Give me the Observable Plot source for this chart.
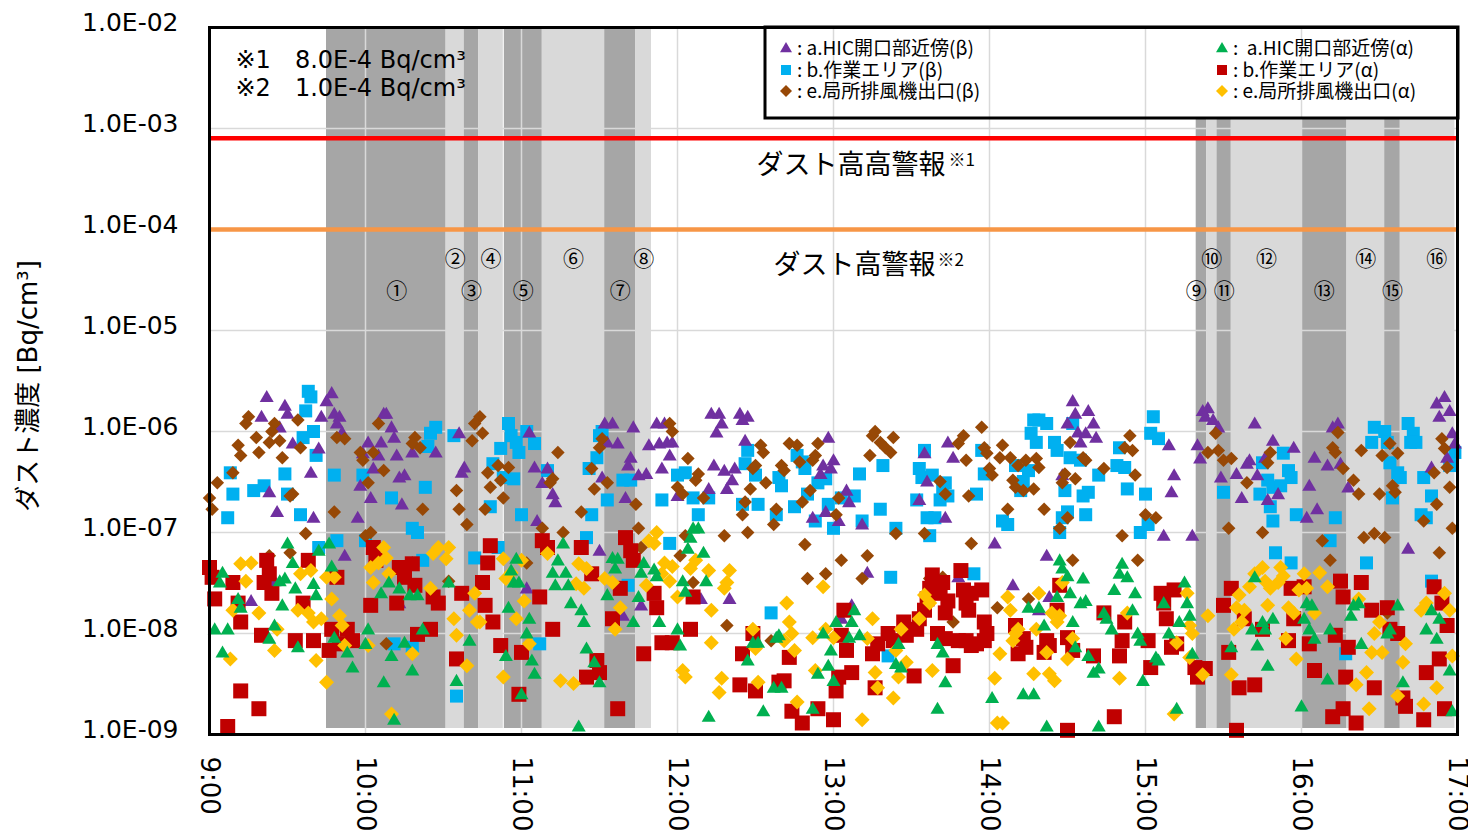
<!DOCTYPE html>
<html><head><meta charset="utf-8">
<script src="https://cdn.jsdelivr.net/npm/d3@7"></script>
<script src="https://cdn.jsdelivr.net/npm/@observablehq/plot@0.6"></script>
<style>body{margin:0;background:#fff} svg{display:block}</style>
</head><body><div id="chart"></div>
<script>
// ---------- data ----------
const hours = [9,10,11,12,13,14,15,16,17];
const decades = [1e-9,1e-8,1e-7,1e-6,1e-5,1e-4,1e-3,1e-2];
const thresholds = [
  {key:"※1", value:8e-4, label:"ダスト高高警報", color:"#ff0000"},
  {key:"※2", value:1e-4, label:"ダスト高警報", color:"#f79646"}
];
const bands = [
  {start:"9:45", end:"10:31", shade:"dark", label:"①", at:"10:12"},
  {start:"10:31", end:"10:38", shade:"light", label:"②"},
  {start:"10:38", end:"10:43.5", shade:"dark", label:"③"},
  {start:"10:43.5", end:"10:53", shade:"light", label:"④"},
  {start:"10:53.4", end:"11:08", shade:"dark", label:"⑤"},
  {start:"11:08", end:"11:32", shade:"light", label:"⑥"},
  {start:"11:32", end:"11:44", shade:"dark", label:"⑦"},
  {start:"11:44", end:"11:50", shade:"light", label:"⑧"},
  {start:"15:19.5", end:"15:23.5", shade:"dark", label:"⑨", at:"15:19.5"},
  {start:"15:23.5", end:"15:27.5", shade:"light", label:"⑩"},
  {start:"15:27.5", end:"15:33", shade:"dark", label:"⑪"},
  {start:"15:33", end:"16:00", shade:"light", label:"⑫"},
  {start:"16:00", end:"16:17.5", shade:"dark", label:"⑬"},
  {start:"16:17.5", end:"16:32", shade:"light", label:"⑭"},
  {start:"16:32", end:"16:38", shade:"dark", label:"⑮"},
  {start:"16:38", end:"16:59", shade:"light", label:"⑯", at:"16:52"}
];
const shades = {dark:"#a6a6a6", light:"#d9d9d9"};

const seriesInfo = [
  {id:"aBeta", name:": a.HIC開口部近傍(β)", color:"#7030a0", symbol:"tri", w:14},
  {id:"bBeta", name:": b.作業エリア(β)", color:"#00b0f0", symbol:"sqr", w:13},
  {id:"eBeta", name:": e.局所排風機出口(β)", color:"#974806", symbol:"dia", w:13.5},
  {id:"aAlpha", name:":  a.HIC開口部近傍(α)", color:"#00b050", symbol:"tri", w:14},
  {id:"bAlpha", name:": b.作業エリア(α)", color:"#c00000", symbol:"sqr", w:15},
  {id:"eAlpha", name:": e.局所排風機出口(α)", color:"#ffc000", symbol:"dia", w:15}
];

const aBeta = [["9:22",2.2e-6],["9:29",1.8e-6],["9:20",1.4e-6],["9:30",1.5e-6],["9:27",1.1e-6],["9:32",7.6e-7],["9:39",3.9e-7],["9:23",2.5e-7],["9:26",1.6e-7],["9:40",1.4e-7],["9:42",6.8e-7],["9:47",2.4e-6],["9:45",2.0e-6],["9:43",1.4e-6],["9:48",1.5e-6],["9:50",1.4e-6],["9:49",1.2e-6],["9:51",9.8e-7],["10:01",7.8e-7],["9:59",6.1e-7],["10:06",7.8e-7],["10:05",5.8e-7],["10:03",4.3e-7],["9:58",2.9e-7],["10:02",2.2e-7],["9:57",1.4e-7],["10:07",1.5e-6],["10:08",1.5e-6],["10:10",1.1e-6],["10:11",8.7e-7],["10:12",5.8e-7],["10:13",3.5e-7],["10:15",3.7e-7],["10:14",1.9e-7],["10:18",6.2e-7],["10:27",6.2e-7],["10:36",9.6e-7],["10:38",4.4e-7],["10:37",3.9e-7],["9:52",5.9e-8],["9:25",3.3e-8],["9:16",2.1e-8],["10:13",2.0e-8],["11:03",9.8e-7],["11:05",4.4e-7],["11:08",3.1e-7],["11:10",4.3e-7],["11:12",2.4e-7],["11:13",2.0e-7],["11:06",1.3e-7],["11:02",2.8e-8],["11:30",6.6e-8],["11:32",1.2e-6],["11:35",1.2e-6],["11:33",7.8e-7],["11:37",7.6e-7],["11:31",3.5e-7],["11:43",1.1e-6],["11:42",5.5e-7],["11:41",4.6e-7],["11:45",3.7e-7],["11:48",3.8e-7],["11:49",7.3e-7],["11:40",2.2e-7],["11:39",1.5e-8],["11:46",1.9e-8],
["11:52",1.2e-6],["11:55",1.2e-6],["11:53",7.6e-7],["11:56",7.8e-7],["11:58",7.8e-7],["11:57",5.8e-7],["11:54",4.3e-7],["12:00",2.3e-7],["12:13",1.5e-6],["12:16",1.5e-6],["12:17",1.2e-6],["12:15",9.8e-7],["12:24",1.5e-6],["12:27",1.4e-6],["12:25",1.3e-6],["12:26",8.1e-7],["12:14",4.6e-7],["12:18",4.1e-7],["12:22",4.3e-7],["12:21",3.3e-7],["12:19",2.7e-7],["12:12",2.7e-7],["12:09",2.2e-8],["12:20",2.2e-8],["12:58",8.7e-7],["12:56",4.6e-7],["13:00",5.2e-7],["12:59",4.3e-7],["12:55",3.8e-7],["13:05",2.6e-7],["13:06",2.0e-7],["12:52",1.4e-7],["12:57",1.6e-7],["13:02",1.3e-7],["13:11",1.2e-7],["13:13",4.0e-8],["13:07",1.9e-8],["13:03",1.4e-8],["13:35",6.1e-7],["13:36",3.2e-7],["13:33",2.1e-7],["13:43",1.4e-7],["13:44",7.8e-7],["13:46",5.5e-7],["13:48",3.6e-8],["14:02",7.8e-8],["14:09",3.0e-8],["14:23",2.3e-8],["14:22",5.9e-8],["14:19",1.7e-8],["14:28",3.7e-7],["14:32",2.0e-6],["14:33",1.5e-6],["14:30",1.2e-6],["14:38",1.6e-6],["14:40",1.2e-6],["14:34",9.8e-7],["14:37",9.6e-7],["14:41",8.7e-7],["14:35",7.8e-7],["15:09",7.3e-7],["15:11",3.7e-7],["15:10",2.5e-7],["15:07",9.3e-8],["15:18",9.3e-8],["15:20",7.3e-7],
["15:22",1.6e-6],["15:24",1.7e-6],["15:23",1.4e-6],["15:26",1.3e-6],["15:28",1.1e-6],["15:21",5.4e-7],["15:29",3.5e-7],["15:35",3.8e-7],["15:39",4.8e-7],["15:40",5.2e-7],["15:43",3.7e-7],["15:37",2.2e-7],["15:42",1.2e-6],["15:49",8.1e-7],["15:47",2.1e-7],["15:46",5.5e-7],["15:51",2.4e-7],["15:57",6.9e-7],["16:03",2.9e-7],["16:05",5.5e-7],["16:02",1.4e-7],["16:06",1.7e-7],["16:12",1.1e-6],["16:14",1.2e-6],["16:10",4.6e-7],["16:15",4.8e-7],["16:18",2.8e-7],["16:41",6.9e-8],["16:52",1.9e-6],["16:55",2.2e-6],["16:53",1.4e-6],["16:57",1.6e-6],["16:58",9.6e-7],["16:59",7.6e-7],["16:56",5.5e-7],["16:50",4.4e-7]];

const bBeta = [["9:38",2.5e-6],["9:39",2.2e-6],["9:37",1.6e-6],["9:40",1.0e-6],["9:36",8.7e-7],["9:41",5.8e-7],["9:29",3.8e-7],["9:21",2.9e-7],["9:17",2.6e-7],["9:09",2.4e-7],["9:08",3.9e-7],["9:07",1.4e-7],["9:30",2.4e-7],["9:35",1.5e-7],["9:48",3.7e-7],["9:49",8.3e-8],["9:42",7.1e-8],["9:59",3.7e-7],["10:00",8.3e-8],["10:10",2.2e-7],["10:23",2.8e-7],["10:18",1.1e-7],["10:20",1.0e-7],["10:22",5.3e-8],["10:27",1.1e-6],["10:25",9.6e-7],["10:24",7.1e-7],["10:34",9.1e-7],["10:11",7.9e-9],["10:18",7.3e-9],["10:55",1.2e-6],["10:56",9.1e-7],["10:52",6.8e-7],["10:58",7.8e-7],["10:59",6.2e-7],["11:02",1.0e-6],["11:05",7.6e-7],["10:49",4.8e-7],["10:53",3.5e-7],["10:57",3.4e-7],["10:48",1.8e-7],["11:00",1.5e-7],["11:10",4.1e-7],["11:25",8.9e-8],["11:26",4.3e-7],["11:29",5.5e-7],["11:30",9.1e-7],["11:31",1.0e-6],["11:27",1.5e-7],["11:33",2.1e-7],["11:39",3.3e-7],["11:42",3.3e-7],["10:42",5.6e-8],["10:51",7.1e-8],["10:35",2.4e-9],["11:07",7.9e-9],["11:41",3.0e-8],
["11:54",2.1e-7],["12:00",3.7e-7],["12:03",3.9e-7],["12:06",2.2e-7],["12:08",1.5e-7],["12:12",2.2e-7],["11:57",7.8e-8],["12:27",6.5e-7],["12:26",4.8e-7],["12:30",3.7e-7],["12:25",1.9e-7],["12:31",1.9e-7],["12:36",1.6e-8],["12:39",3.5e-7],["12:40",2.9e-7],["12:38",1.5e-7],["12:46",5.8e-7],["12:48",5.0e-7],["12:49",4.3e-7],["12:45",1.8e-7],["12:50",2.4e-7],["12:54",3.1e-7],["12:57",3.4e-7],["12:53",1.3e-7],["12:58",1.9e-7],["13:00",1.1e-7],["13:03",2.2e-7],["13:08",2.3e-7],["13:10",3.8e-7],["13:11",1.3e-7],["13:19",4.6e-7],["13:18",1.7e-7],["13:22",3.6e-8],["13:24",1.1e-7],["13:35",6.5e-7],["13:33",4.3e-7],["13:34",3.5e-7],["13:38",3.7e-7],["13:39",1.4e-7],["13:42",2.7e-7],["13:41",2.1e-7],["13:43",3.1e-7],["13:44",2.3e-7],["13:36",1.4e-7],["13:32",2.1e-7],["13:37",9.3e-8],["13:21",6.0e-9],["13:54",3.9e-8],["13:55",2.4e-7],["13:57",6.5e-7],["13:58",3.8e-7],["14:05",1.3e-7],["14:07",1.2e-7],["14:10",4.6e-7],["14:13",3.2e-7],["14:15",4.1e-7],["14:12",2.6e-7],["14:17",1.3e-6],["14:19",1.3e-6],["14:22",1.2e-6],["14:16",9.6e-7],["14:18",7.8e-7],["14:25",7.8e-7],["14:26",6.5e-7],["14:32",1.2e-6],["14:31",5.5e-7],["14:35",5.2e-7],["14:29",2.6e-7],["14:30",1.6e-7],["14:36",2.3e-7],["14:38",2.5e-7],["14:37",1.5e-7],["14:28",1.4e-7],["14:27",1.0e-7],["14:42",3.7e-7],["14:50",6.9e-7],["14:49",4.6e-7],["14:52",4.4e-7],["14:53",2.7e-7],["15:00",2.4e-7],["14:58",1.0e-7],["15:01",1.2e-7],["15:03",1.4e-6],["15:02",9.6e-7],["15:05",8.5e-7],
["15:30",2.5e-7],["15:53",6.1e-7],["15:55",4.1e-7],["15:56",3.5e-7],["15:45",4.9e-7],["15:47",3.3e-7],["15:44",2.4e-7],["15:49",2.8e-7],["15:52",2.9e-7],["15:48",1.8e-7],["15:49",1.3e-7],["15:58",1.5e-7],["15:50",6.3e-8],["15:56",5.0e-8],["16:13",1.4e-7],["16:11",8.3e-8],["16:25",5.0e-8],["16:28",1.1e-6],["16:32",1.0e-6],["16:27",7.8e-7],["16:33",7.8e-7],["16:34",4.9e-7],["16:37",3.9e-7],["16:38",3.5e-7],["16:35",2.2e-7],["16:41",1.2e-6],["16:43",9.6e-7],["16:42",7.8e-7],["16:44",7.8e-7],["16:47",3.5e-7],["16:50",2.3e-7],["16:46",1.5e-7],["16:48",1.4e-7],["16:57",4.6e-7],["16:59",6.2e-7],["16:50",3.3e-8],["16:17",6.3e-9]];

const eBeta = [["9:15",1.4e-6],["9:14",1.2e-6],["9:25",1.2e-6],["9:24",1.0e-6],["9:18",8.7e-7],["9:11",7.3e-7],["9:12",5.8e-7],["9:19",6.2e-7],["9:23",7.8e-7],["9:27",8.1e-7],["9:34",1.3e-6],["9:35",6.9e-7],["9:28",5.5e-7],["9:09",3.9e-7],["9:03",3.1e-7],["9:00",2.2e-7],["9:01",1.7e-7],["9:32",2.4e-7],["9:31",2.3e-7],["9:37",9.8e-8],["9:23",5.9e-8],["9:31",6.3e-8],["9:49",8.7e-7],["9:52",8.5e-7],["9:48",1.6e-7],["9:58",6.2e-7],["9:59",5.2e-7],["10:05",1.2e-6],["10:03",6.2e-7],["10:07",4.1e-7],["10:01",3.1e-7],["10:02",1.0e-7],["10:00",9.3e-8],["10:19",8.7e-7],["10:18",7.6e-7],["10:21",6.9e-7],["10:22",1.7e-7],["10:35",2.6e-7],["10:36",1.7e-7],["10:39",1.2e-7],["10:18",5.0e-8],["10:32",3.3e-8],["10:08",7.9e-9],["10:44",1.4e-6],["10:42",1.2e-6],["10:45",9.6e-7],["10:41",8.1e-7],["10:47",3.9e-7],["10:48",2.8e-7],["10:52",3.3e-7],["10:53",2.2e-7],["10:51",4.6e-7],["10:55",4.4e-7],["10:46",1.7e-7],["11:08",1.1e-7],["11:11",3.1e-7],["11:12",3.4e-7],["11:14",6.2e-7],["11:16",1.0e-7],["11:23",1.6e-7],["11:27",4.3e-7],["11:28",2.7e-7],["11:30",6.9e-7],["11:31",8.5e-7],["11:33",3.1e-7],["11:44",1.9e-7],["11:45",1.1e-7],["11:46",7.1e-8],["11:02",5.0e-8],
["11:57",1.2e-6],["11:58",1.0e-6],["12:04",5.4e-7],["12:08",3.8e-7],["12:07",3.3e-7],["12:00",2.8e-7],["12:02",2.4e-7],["12:10",2.2e-7],["12:03",9.3e-8],["12:01",5.9e-8],["12:06",3.2e-8],["12:18",9.3e-8],["12:27",1.0e-7],["12:25",1.5e-7],["12:26",2.0e-7],["12:28",2.7e-7],["12:29",4.3e-7],["12:30",4.6e-7],["12:32",7.3e-7],["12:33",6.2e-7],["12:34",3.1e-7],["12:38",1.7e-7],["12:37",1.2e-7],["12:40",4.6e-7],["12:41",4.1e-7],["12:43",7.6e-7],["12:46",7.3e-7],["12:47",5.0e-7],["12:48",2.0e-7],["12:51",2.6e-7],["12:52",5.2e-7],["12:54",7.6e-7],["12:53",5.8e-7],["12:49",7.6e-8],["12:50",3.5e-8],["12:57",3.9e-8],["13:03",5.3e-8],["13:01",1.5e-7],["13:02",2.2e-7],["13:13",5.9e-8],["13:11",3.5e-8],["12:19",1.2e-8],["12:36",8.5e-9],["13:14",5.8e-7],["13:15",9.1e-7],["13:16",1.0e-6],["13:18",7.8e-7],["13:20",6.9e-7],["13:23",8.7e-7],["13:22",6.2e-7],["13:24",9.8e-8],["13:35",9.8e-8],["13:37",3.5e-8],["13:42",3.6e-8],["13:41",3.2e-7],["13:43",2.4e-7],["13:46",1.3e-8],["13:48",7.6e-7],["13:50",9.1e-7],["13:51",5.2e-7],["13:52",2.3e-7],["13:53",7.8e-8],["13:57",1.1e-6],["13:58",6.9e-7],["13:59",6.1e-7],["14:00",4.3e-7],["14:01",3.7e-7],["14:05",7.3e-7],["14:04",5.5e-7],["14:08",5.5e-7],["14:07",1.7e-7],["14:09",3.3e-7],["14:10",2.8e-7],["14:11",4.6e-7],["14:13",2.6e-7],["14:17",2.7e-7],["14:14",5.2e-7],["14:03",1.8e-8],["14:15",2.2e-8],["14:18",5.4e-7],["14:19",4.4e-7],["14:21",1.7e-7],["14:27",1.1e-7],["14:30",1.4e-7],["14:28",3.1e-7],["14:29",3.8e-7],["14:31",7.8e-7],["14:33",3.4e-7],["14:36",5.5e-7],["14:37",5.2e-7],["14:32",5.3e-8],["14:44",4.3e-7],["14:51",9.3e-8],["14:54",9.1e-7],["14:52",6.9e-7],["14:55",6.5e-7],["14:56",3.7e-7],["14:57",5.3e-8],["15:00",1.5e-7],["15:04",1.4e-7],
["15:27",9.6e-7],["15:24",6.2e-7],["15:28",6.5e-7],["15:30",5.2e-7],["15:33",5.4e-7],["15:32",1.1e-7],["15:39",3.1e-7],["15:45",1.0e-7],["15:48",6.2e-7],["15:47",4.9e-7],["16:12",6.9e-7],["16:13",6.2e-7],["16:16",4.3e-7],["16:14",9.8e-7],["16:08",8.3e-8],["16:11",5.3e-8],["16:20",3.3e-7],["16:22",2.4e-7],["16:23",6.5e-7],["16:24",8.9e-8],["16:28",9.8e-8],["16:32",8.9e-8],["16:30",2.4e-7],["16:34",7.6e-7],["16:31",5.8e-7],["16:37",6.1e-7],["16:35",2.9e-7],["16:36",2.5e-7],["16:33",1.6e-8],["16:47",1.3e-7],["16:51",3.9e-7],["16:52",1.9e-7],["16:53",6.3e-8],["16:54",8.5e-7],["16:55",6.8e-7],["16:56",4.4e-7],["16:57",2.8e-7],["16:58",1.1e-7]];

const bAlpha = [["9:00",4.5e-8],["9:01",3.6e-8],["9:09",3.2e-8],["9:02",2.2e-8],["9:11",2.0e-8],["9:12",1.3e-8],["9:22",5.3e-8],["9:23",3.9e-8],["9:21",3.2e-8],["9:24",2.5e-8],["9:38",5.3e-8],["9:36",2.0e-8],["9:20",9.6e-9],["9:33",8.5e-9],["9:40",8.5e-9],["9:12",2.7e-9],["9:19",1.8e-9],["9:07",1.2e-9],["9:49",3.6e-8],["9:47",1.1e-8],["9:46",6.8e-9],["9:50",7.9e-9],["9:53",1.1e-8],["9:55",8.5e-9],["10:03",7.1e-8],["10:04",5.3e-8],["10:13",4.5e-8],["10:15",3.6e-8],["10:18",4.9e-8],["10:19",3.0e-8],["10:02",1.9e-8],["10:12",2.0e-8],["10:26",2.3e-8],["10:28",2.0e-8],["10:37",2.5e-8],["10:25",1.1e-8],["10:20",9.8e-9],["10:35",5.6e-9],["10:48",7.4e-8],["10:47",5.0e-8],["10:45",3.2e-8],["10:46",1.9e-8],["10:49",1.3e-8],["10:52",7.6e-9],["11:00",6.5e-9],["10:59",2.5e-9],["11:07",2.3e-8],["11:08",8.3e-8],["11:10",7.1e-8],["11:23",7.1e-8],["11:27",3.9e-8],["11:25",3.7e-9],["11:30",4.1e-9],["11:29",5.4e-9],["11:37",1.8e-9],["11:12",1.1e-8],["11:40",8.9e-8],["11:42",6.6e-8],["11:43",5.3e-8],["11:38",2.8e-8],["11:35",1.4e-8],["11:47",6.3e-9],
["11:51",2.5e-8],["11:52",1.8e-8],["11:54",8.1e-9],["11:58",8.1e-9],["12:05",1.1e-8],["12:06",2.3e-8],["12:29",1.0e-8],["12:25",6.3e-9],["12:24",3.1e-9],["12:30",2.7e-9],["12:41",3.4e-9],["12:43",5.8e-9],["12:44",1.7e-9],["12:48",1.3e-9],["12:54",1.8e-9],["13:00",1.4e-9],["13:01",2.7e-9],["13:02",3.7e-9],["13:07",4.1e-9],["13:03",9.6e-9],["13:05",6.8e-9],["13:04",1.7e-8],["13:15",6.3e-9],["13:16",2.9e-9],["13:17",7.9e-9],["13:21",1.0e-8],["13:23",8.5e-9],["13:27",1.3e-8],["13:28",9.6e-9],["13:31",3.8e-9],["13:32",1.1e-8],["13:33",1.4e-8],["13:35",1.7e-8],["13:36",2.2e-8],["13:38",3.8e-8],["13:37",2.8e-8],["13:40",1.0e-8],["13:41",2.5e-8],["13:42",3.2e-8],["13:44",2.1e-8],["13:43",1.6e-8],["13:43",8.9e-9],["13:46",4.8e-9],["13:48",8.5e-9],["13:49",4.2e-8],["13:50",2.7e-8],["13:51",2.0e-8],["13:52",1.7e-8],["13:53",2.5e-8],["13:51",8.5e-9],["13:53",7.6e-9],["13:57",2.7e-8],["13:58",1.3e-8],["13:59",1.0e-8],["13:55",7.9e-9],["13:58",8.5e-9],["14:10",1.2e-8],["14:11",6.3e-9],["14:13",8.9e-9],["14:14",7.3e-9],["14:22",8.5e-9],["14:21",6.5e-9],["14:23",7.6e-9],["14:27",3.0e-8],["14:26",1.7e-8],["14:30",9.1e-9],["14:32",6.8e-9],["14:40",6.0e-9],["14:44",1.6e-8],["14:50",6.0e-9],["14:48",1.5e-9],["14:51",8.5e-9],["14:52",1.3e-8],["15:01",8.5e-9],["15:02",4.6e-9],["15:08",1.4e-8],["15:11",2.7e-8],["15:12",7.9e-9],["14:30",1.1e-9],["12:39",3.3e-9],
["15:06",2.5e-8],["15:07",2.0e-8],["15:10",7.3e-9],["15:20",3.7e-9],["15:19",4.6e-9],["15:23",4.5e-9],["15:33",2.8e-8],["15:30",1.9e-8],["15:32",6.5e-9],["15:38",1.4e-8],["15:36",2.9e-9],["15:42",3.1e-9],["15:45",1.1e-8],["15:56",2.8e-8],["15:55",8.5e-9],["15:57",1.4e-8],["16:01",2.9e-8],["16:03",7.9e-9],["16:05",4.3e-9],["16:15",3.3e-8],["16:16",2.3e-8],["16:13",9.6e-9],["16:18",7.3e-9],["16:17",3.7e-9],["16:16",1.8e-9],["16:12",1.5e-9],["16:21",1.3e-9],["16:23",3.2e-8],["16:27",1.7e-8],["16:33",1.8e-8],["16:34",1.1e-8],["16:37",1.0e-8],["16:28",2.9e-9],["16:39",2.3e-9],["16:40",1.9e-9],["16:48",4.1e-9],["16:47",1.4e-9],["16:55",1.8e-9],["16:53",5.6e-9],["16:51",2.9e-8],["16:54",2.0e-8],["16:56",1.2e-8],["15:35",1.1e-9]];

const eAlpha = [["9:12",4.9e-8],["9:16",5.0e-8],["9:14",3.3e-8],["9:09",1.7e-8],["9:19",1.6e-8],["9:08",5.6e-9],["9:25",6.8e-9],["9:26",1.1e-8],["9:35",3.9e-8],["9:39",4.2e-8],["9:34",1.7e-8],["9:38",1.6e-8],["9:40",1.3e-8],["9:43",1.4e-8],["9:45",3.6e-8],["9:48",3.6e-8],["9:47",2.2e-8],["9:50",1.5e-8],["9:51",1.2e-8],["9:41",5.4e-9],["9:45",3.3e-9],["9:52",7.6e-9],["10:01",7.6e-9],["10:07",7.1e-8],["10:05",5.0e-8],["10:08",5.6e-8],["10:02",4.5e-8],["10:03",3.2e-8],["10:09",3.9e-8],["10:28",7.1e-8],["10:32",7.1e-8],["10:31",5.5e-8],["10:26",6.2e-8],["10:25",2.8e-8],["10:42",2.5e-8],["10:40",1.7e-8],["10:43",1.3e-8],["10:44",1.3e-8],["10:34",1.4e-8],["10:35",9.6e-9],["10:39",4.8e-9],["10:18",6.3e-9],["10:10",1.6e-9],["10:53",5.5e-8],["10:56",4.0e-8],["11:00",5.3e-8],["10:54",3.5e-8],["11:01",2.1e-8],["10:58",1.4e-8],["11:03",7.9e-9],["10:53",3.7e-9],["11:10",6.2e-8],["11:22",4.9e-8],["11:25",4.4e-8],["11:21",3.1e-8],["11:24",2.8e-8],["11:15",3.4e-9],["11:20",3.2e-9],["11:32",3.5e-8],["11:35",3.2e-8],["11:38",1.8e-8],["11:36",1.1e-8],["11:48",3.0e-8],["11:49",8.3e-8],
["11:52",1.0e-7],["11:51",7.8e-8],["11:55",5.0e-8],["11:58",4.6e-8],["11:54",3.9e-8],["11:57",3.3e-8],["12:00",2.3e-8],["12:05",4.4e-8],["12:07",5.3e-8],["12:12",4.2e-8],["12:20",4.2e-8],["12:19",3.2e-8],["12:18",2.8e-8],["12:13",1.7e-8],["12:02",4.3e-9],["12:03",3.7e-9],["12:13",8.1e-9],["12:17",3.6e-9],["12:16",2.6e-9],["12:29",1.1e-8],["12:30",7.1e-9],["12:31",3.3e-9],["12:42",2.0e-8],["12:43",1.3e-8],["12:44",1.0e-8],["12:41",8.5e-9],["12:45",6.8e-9],["12:46",2.1e-9],["12:52",9.1e-9],["12:56",2.9e-8],["12:57",1.1e-8],["13:00",9.1e-9],["12:53",4.3e-9],["13:11",1.4e-9],["13:15",1.4e-8],["13:13",8.9e-9],["13:16",4.1e-9],["13:17",2.9e-9],["13:23",2.3e-9],["13:26",1.1e-8],["13:24",6.8e-9],["13:28",5.2e-9],["13:25",3.7e-9],["13:33",1.4e-8],["13:35",2.4e-8],["13:37",2.0e-8],["13:38",4.3e-9],["14:03",1.3e-9],["14:05",1.3e-9],["14:02",3.6e-9],["14:04",6.3e-9],["14:07",2.3e-8],["14:08",1.7e-8],["14:10",1.0e-8],["14:09",8.5e-9],["14:11",1.1e-8],["14:17",4.0e-9],["14:19",2.5e-8],["14:18",1.1e-8],["14:22",6.5e-9],["14:23",4.0e-9],["14:25",3.4e-9],["14:24",1.6e-8],["14:27",1.5e-8],["14:26",1.3e-8],["14:30",5.6e-9],["14:32",8.9e-9],["14:28",3.2e-8],["14:50",3.6e-9],["14:53",1.6e-8],["15:12",8.1e-9],["15:16",2.5e-8],["15:17",1.2e-8],["15:18",1.0e-8],["15:17",5.8e-9],["15:11",1.6e-9],
["15:22",3.9e-9],["15:24",1.5e-8],["15:33",3.9e-9],["15:34",1.1e-8],["15:36",2.4e-8],["15:35",1.8e-8],["15:38",1.7e-8],["15:37",1.3e-8],["15:40",2.9e-8],["15:42",3.9e-8],["15:45",4.5e-8],["15:46",3.3e-8],["15:48",2.8e-8],["15:51",3.2e-8],["15:47",1.9e-8],["15:52",4.5e-8],["15:53",3.7e-8],["15:55",1.8e-8],["15:57",1.6e-8],["15:54",8.9e-9],["15:58",5.6e-9],["16:01",3.9e-8],["15:59",2.7e-8],["16:02",2.8e-8],["16:05",1.6e-8],["16:07",4.0e-8],["16:10",2.9e-8],["16:22",2.2e-8],["16:25",4.1e-9],["16:21",3.1e-9],["16:27",6.5e-9],["16:31",6.5e-9],["16:28",1.0e-8],["16:30",1.3e-8],["16:26",1.8e-9],["16:37",2.4e-9],["16:39",5.2e-9],["16:40",7.9e-9],["16:47",2.0e-9],["16:52",2.9e-9],["16:48",2.0e-8],["16:46",1.7e-8],["16:55",2.5e-8],["16:57",1.7e-8],["16:58",6.0e-9]];

const aAlpha = [["9:05",4.0e-8],["9:04",3.2e-8],["9:11",2.2e-8],["9:12",1.8e-8],["9:02",1.1e-8],["9:07",1.1e-8],["9:05",6.5e-9],["9:30",7.8e-8],["9:32",5.0e-8],["9:27",3.3e-8],["9:29",3.5e-8],["9:33",2.8e-8],["9:28",1.9e-8],["9:25",1.2e-8],["9:23",8.9e-9],["9:34",7.3e-9],["9:42",6.6e-8],["9:46",7.8e-8],["9:47",4.6e-8],["9:40",3.1e-8],["9:41",2.4e-8],["9:48",9.1e-9],["9:53",6.5e-9],["9:55",4.6e-9],["10:00",7.9e-9],["10:01",1.1e-8],["10:07",3.3e-9],["10:11",1.4e-9],["10:06",2.5e-8],["10:09",3.2e-8],["10:13",2.8e-8],["10:17",2.4e-8],["10:20",2.4e-8],["10:10",6.0e-9],["10:18",4.3e-9],["10:15",8.1e-9],["10:22",1.1e-8],["10:32",3.2e-8],["10:35",3.4e-9],["10:40",8.5e-9],["10:58",5.5e-8],["10:56",4.2e-8],["10:55",1.8e-8],["10:57",3.2e-8],["10:59",3.2e-8],["11:03",1.4e-8],["11:02",1.0e-8],["11:04",5.4e-9],["11:05",4.0e-9],["10:54",6.0e-9],["11:00",2.5e-9],["11:16",7.8e-8],["11:14",5.3e-8],["11:12",4.0e-8],["11:17",4.0e-8],["11:13",3.0e-8],["11:18",3.0e-8],["11:23",1.7e-8],["11:24",1.3e-8],["11:19",2.0e-8],["11:25",7.1e-9],["11:28",5.2e-9],["11:30",3.3e-9],["11:22",1.2e-9],["11:35",5.6e-8],["11:37",5.5e-8],["11:36",4.4e-8],["11:33",2.4e-8],["11:45",2.3e-8],["11:43",1.3e-8],["11:47",5.0e-8],["11:46",4.0e-8],
["12:06",1.1e-7],["12:08",1.1e-7],["12:05",8.9e-8],["12:04",6.9e-8],["12:10",6.3e-8],["12:11",3.3e-8],["12:02",3.3e-8],["12:03",2.6e-8],["11:51",4.3e-8],["11:52",3.7e-8],["11:53",1.3e-8],["12:00",1.1e-8],["12:01",7.6e-9],["12:12",1.5e-9],["12:27",5.4e-9],["12:29",8.1e-9],["12:31",8.1e-9],["12:38",9.1e-9],["12:39",9.6e-9],["12:37",2.9e-9],["12:40",2.9e-9],["12:33",1.7e-9],["12:52",1.8e-9],["12:54",4.0e-9],["12:58",4.8e-9],["13:00",3.4e-9],["12:59",6.8e-9],["12:56",1.0e-8],["13:01",1.3e-8],["13:07",1.3e-8],["13:08",1.7e-8],["13:06",9.1e-9],["13:10",9.6e-9],["13:24",5.0e-9],["13:26",4.6e-9],["13:25",7.9e-9],["13:40",7.9e-9],["13:42",6.5e-9],["13:43",3.3e-9],["13:40",1.8e-9],["14:01",2.3e-9],["14:13",2.5e-9],["14:17",2.5e-9],["14:22",1.2e-9],["14:15",1.8e-8],["14:19",1.8e-8],["14:21",1.2e-8],["14:27",5.3e-8],["14:28",4.4e-8],["14:30",3.7e-8],["14:26",2.3e-8],["14:31",2.5e-8],["14:36",3.5e-8],["14:35",2.0e-8],["14:37",2.1e-8],["14:32",1.3e-8],["14:33",7.3e-9],["14:38",6.0e-9],["14:40",4.1e-9],["14:42",4.5e-9],["14:42",1.2e-9],["14:44",1.6e-8],["14:45",1.4e-8],["14:48",2.7e-8],["14:51",4.9e-8],["14:50",3.9e-8],["14:53",3.6e-8],["14:56",2.5e-8],["14:55",1.7e-8],["14:47",1.1e-8],["14:57",1.0e-8],["14:58",8.5e-9],["14:59",3.4e-9],["15:04",5.8e-9],["15:05",5.4e-9],["15:07",2.0e-8],["15:09",1.0e-8],["15:15",3.2e-8],["15:16",2.0e-8],["15:17",1.5e-8],["15:13",1.3e-8],["15:18",6.3e-9],["15:12",1.8e-9],
["15:33",7.3e-9],["15:42",3.6e-8],["15:41",1.1e-8],["15:45",1.3e-8],["15:49",1.4e-8],["15:46",1.1e-8],["15:43",7.6e-9],["15:47",4.8e-9],["16:00",1.9e-9],["16:02",2.0e-8],["16:04",1.9e-8],["16:01",1.4e-8],["16:03",1.1e-8],["16:05",8.9e-9],["16:10",3.5e-9],["16:11",1.1e-8],["16:20",1.9e-8],["16:22",2.0e-8],["16:19",1.5e-8],["16:23",7.9e-9],["16:34",1.1e-8],["16:37",1.9e-8],["16:33",1.0e-8],["16:39",3.3e-9],["16:50",1.7e-8],["16:53",1.4e-8],["16:48",1.1e-8],["16:52",8.9e-9],["16:57",4.3e-9],["16:58",1.7e-9]];

const seriesData = {aBeta, bBeta, eBeta, aAlpha, bAlpha, eAlpha};
const drawOrder = ["bBeta","aBeta","eBeta","bAlpha","eAlpha","aAlpha"];

// ---------- helpers ----------
const T = s => { const [h, m] = s.split(":"); return +h + (+m) / 60; };
const SYM = {
  tri: {draw(ctx, size){ const w = Math.sqrt(size), h = w * 0.86; ctx.moveTo(0, -h * 0.58); ctx.lineTo(w / 2, h * 0.42); ctx.lineTo(-w / 2, h * 0.42); ctx.closePath(); }},
  sqr: {draw(ctx, size){ const w = Math.sqrt(size); ctx.rect(-w / 2, -w / 2, w, w); }},
  dia: {draw(ctx, size){ const w = Math.sqrt(size) / 2; ctx.moveTo(0, -w); ctx.lineTo(w, 0); ctx.lineTo(0, w); ctx.lineTo(-w, 0); ctx.closePath(); }}
};
const yFmt = d => "1.0E-" + String(-Math.round(Math.log10(d))).padStart(2, "0");
const sciFmt = v => { const e = Math.floor(Math.log10(v) + 1e-9); return (v / 10 ** e).toFixed(1) + "E" + e; };
const LATIN = "DejaVu Sans, Noto Sans CJK JP, sans-serif";
const CJK = "Noto Sans CJK JP, DejaVu Sans, sans-serif";

const dotMarks = drawOrder.map(id => {
  const s = seriesInfo.find(d => d.id === id);
  return Plot.dot(seriesData[id], {
    x: d => T(d[0]), y: d => d[1],
    symbol: SYM[s.symbol], r: s.w / Math.sqrt(Math.PI),
    fill: s.color, stroke: "none"
  });
});

const upper = bands.filter((d, i) => i % 2 === 1);
const lower = bands.filter((d, i) => i % 2 === 0);
const labelX = d => d.at ? T(d.at) : (T(d.start) + T(d.end)) / 2;
const noteText = d => d.key + "\u3000" + sciFmt(d.value) + " Bq/cm³";

const chart = Plot.plot({
  width: 1468, height: 831,
  marginLeft: 209, marginRight: 11, marginTop: 27, marginBottom: 97,
  style: {background: "#fff", fontFamily: LATIN, color: "#000"},
  x: {domain: [9, 17], axis: null},
  y: {type: "log", domain: [1e-9, 1e-2], axis: null},
  marks: [
    Plot.rect(bands, {x1: d => T(d.start), x2: d => T(d.end), fill: d => shades[d.shade], insetTop: 1, insetBottom: 6}),
    Plot.ruleX(hours, {x: d => d, stroke: "#d9d9d9", strokeWidth: 1.5}),
    Plot.ruleY(decades, {y: d => d, stroke: "#d9d9d9", strokeWidth: 1.5}),
    Plot.ruleY(thresholds, {y: "value", stroke: "color", strokeWidth: 4.5}),
    ...dotMarks,
    // circled period numbers
    Plot.text(upper, {x: labelX, frameAnchor: "top", dy: 232, text: "label", fontSize: 21, fontFamily: CJK, lineAnchor: "middle"}),
    Plot.text(lower, {x: labelX, frameAnchor: "top", dy: 264, text: "label", fontSize: 21, fontFamily: CJK, lineAnchor: "middle"}),
    // threshold annotations
    Plot.text([thresholds[0]], {y: "value", frameAnchor: "middle", text: "label", textAnchor: "end", dx: 112, dy: 27, fontSize: 27, fontFamily: CJK, lineAnchor: "middle"}),
    Plot.text([thresholds[0]], {y: "value", frameAnchor: "middle", text: "key", textAnchor: "start", dx: 115, dy: 22, fontSize: 17, fontFamily: CJK, lineAnchor: "middle"}),
    Plot.text([thresholds[1]], {y: "value", frameAnchor: "middle", text: "label", textAnchor: "end", dx: 102, dy: 36, fontSize: 27, fontFamily: CJK, lineAnchor: "middle"}),
    Plot.text([thresholds[1]], {y: "value", frameAnchor: "middle", text: "key", textAnchor: "start", dx: 104, dy: 31, fontSize: 17, fontFamily: CJK, lineAnchor: "middle"}),
    // notes top-left
    Plot.text([thresholds[0]], {frameAnchor: "top-left", dx: 26, dy: 33, text: noteText, fontSize: 24, fontFamily: LATIN, lineAnchor: "middle", textAnchor: "start"}),
    Plot.text([thresholds[1]], {frameAnchor: "top-left", dx: 26, dy: 61, text: noteText, fontSize: 24, fontFamily: LATIN, lineAnchor: "middle", textAnchor: "start"}),
    // axes tick labels
    Plot.text(decades, {y: d => d, frameAnchor: "left", dx: -31, dy: -5, text: yFmt, textAnchor: "end", fontSize: 25, fontFamily: LATIN, lineAnchor: "middle"}),
    Plot.text(hours, {x: d => d, frameAnchor: "bottom", dy: 22, rotate: 90, text: d => d + ":00", textAnchor: "start", fontSize: 26, fontFamily: LATIN, lineAnchor: "middle"}),
    // y title
    Plot.text(["ダスト濃度 [Bq/cm³]"], {frameAnchor: "left", dx: -181, dy: 5, rotate: -90, text: d => d, fontSize: 26, fontFamily: LATIN, lineAnchor: "middle", textAnchor: "middle"}),
    Plot.frame({stroke: "#000", strokeWidth: 3})
  ]
});
document.getElementById("chart").appendChild(chart);

// ---------- legend (layout only) ----------
const svg = d3.select(chart);
const L = {x: 765, y: 27, w: 693, h: 91};
const bandsNode = chart.querySelector('g[aria-label="rect"]');
const bgNode = d3.create("svg:rect").attr("x", L.x).attr("y", L.y).attr("width", L.w).attr("height", L.h).attr("fill", "#fff").node();
if (bandsNode) bandsNode.after(bgNode); else chart.appendChild(bgNode);
const lg = svg.append("g").attr("text-anchor", "start");
lg.append("rect").attr("x", L.x).attr("y", L.y).attr("width", L.w).attr("height", L.h).attr("fill", "none").attr("stroke", "#000").attr("stroke-width", 3);
const cols = [{mx: 786, tx: 797}, {mx: 1222, tx: 1233}];
const rows = [48, 70, 91];
seriesInfo.forEach((s, i) => {
  const c = cols[Math.floor(i / 3)], y = rows[i % 3];
  const lw = s.symbol === "sqr" ? 10 : 12;
  lg.append("path").attr("transform", `translate(${c.mx},${y})`).attr("d", d3.symbol().type(SYM[s.symbol]).size(lw * lw)()).attr("fill", s.color);
  lg.append("text").attr("x", c.tx).attr("y", y).attr("dy", "0.35em").attr("text-anchor", "start").attr("font-size", 19).attr("font-family", CJK).attr("fill", "#000").text(s.name);
});
</script></body></html>
